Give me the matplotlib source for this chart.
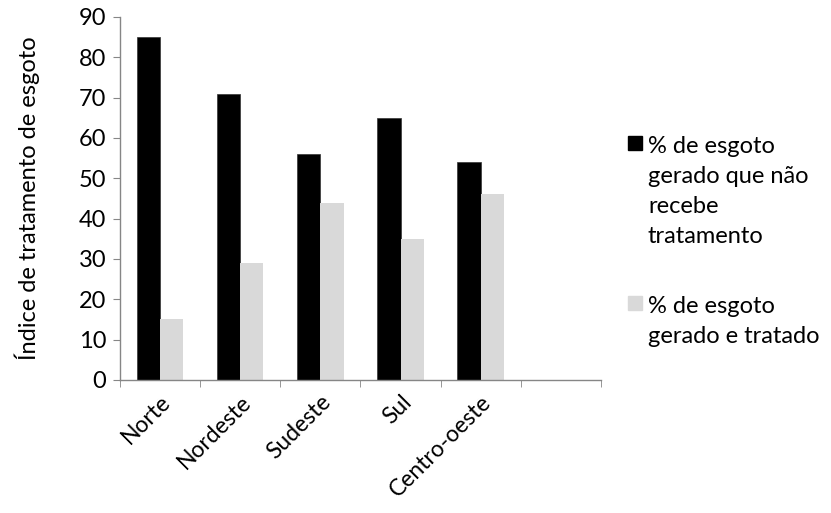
import matplotlib
matplotlib.use("Agg")
import matplotlib.pyplot as plt
import numpy as np
from matplotlib.patches import Rectangle

plt.rcParams['font.family'] = ['Lato', 'DejaVu Sans']

categories = ["Norte", "Nordeste", "Sudeste", "Sul", "Centro-oeste"]
nao_tratado = [85, 71, 56, 65, 54]
tratado = [15, 29, 44, 35, 46]
series_labels = ["% de esgoto\ngerado que não\nrecebe\ntratamento",
                 "% de esgoto\ngerado e tratado"]
series_colors = ["black", "#d9d9d9"]
n_slots = 6

W, H = 831, 513
fig = plt.figure(figsize=(W / 100, H / 100), dpi=100)
ax = fig.add_axes([0.1444, 0.2593, 0.7232 - 0.1444, 0.9669 - 0.2593])

x = np.arange(len(categories))
w = 0.29
ax.bar(x - w / 2, nao_tratado, width=w, color=series_colors[0], edgecolor="#333333", linewidth=0.5)
ax.bar(x + w / 2, tratado, width=w, color=series_colors[1], linewidth=0)

ax.set_xlim(-0.5, n_slots - 0.5)
ax.set_ylim(0, 90)
ax.set_yticks(np.arange(0, 91, 10))
ax.set_xticks(x)
ax.set_xticklabels(categories, rotation=45, ha="right", rotation_mode="anchor", fontsize=16.5)
ax.set_xticks(np.arange(-0.5, n_slots, 1), minor=True)
ax.tick_params(axis="x", which="major", length=0, pad=8)
ax.tick_params(axis="x", which="minor", length=5, direction="out", color="#868686")
ax.tick_params(axis="y", length=5, direction="out", color="#868686", labelsize=17, pad=5)

for s in ["top", "right"]:
    ax.spines[s].set_visible(False)
for s in ["left", "bottom"]:
    ax.spines[s].set_color("#868686")
    ax.spines[s].set_linewidth(1.0)

ax.set_ylabel("Índice de tratamento de esgoto", fontsize=17, labelpad=28)

# Legend drawn manually (square aligned with first text line)
legend_tops = [133, 293]  # pixel y of first-line cap top
for lab, col, top in zip(series_labels, series_colors, legend_tops):
    fig.patches.append(Rectangle((628 / W, 1 - (top + 17) / H), 14 / W, 14 / H,
                                 transform=fig.transFigure, facecolor=col,
                                 edgecolor=col, figure=fig))
    fig.text(648 / W, 1 - (top + 3) / H, lab, fontsize=17, va="top", ha="left",
             linespacing=1.53)

fig.savefig("out.png", dpi=100)
